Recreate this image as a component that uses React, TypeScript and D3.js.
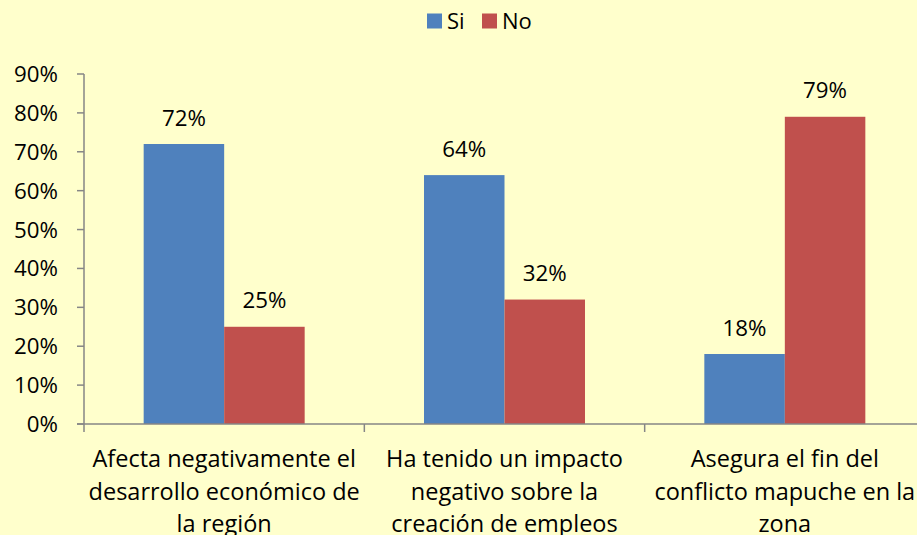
import React from "react";
import * as d3 from "d3";

const categories = [
  ["Afecta negativamente el", "desarrollo económico de", "la región"],
  ["Ha tenido un impacto", "negativo sobre la", "creación de empleos"],
  ["Asegura el fin del", "conflicto mapuche en la", "zona"],
];
const seriesNames = ["Si", "No"];
const siValues = [72, 64, 18];
const noValues = [25, 32, 79];
const yTicks = [0, 10, 20, 30, 40, 50, 60, 70, 80, 90];

const W = 917;
const H = 535;
const colors = ["#4F81BD", "#C0504D"];
const FONT = "'Open Sans', sans-serif";
const FS_NUM = 22.3;
const FS_CAT = 23.5;
const FS_LEG = 22;

export default function App() {
  const left = 84;
  const right = 925;
  const top = 74;
  const bottom = 424;
  const x = d3.scaleBand<number>().domain([0, 1, 2]).range([left, right]);
  const y = d3.scaleLinear().domain([0, 90]).range([bottom, top]);
  const barW = 80.5;
  const series = [siValues, noValues];
  const axisColor = "#868686";

  return (
    <svg
      width={W}
      height={H}
      style={{ position: "fixed", left: 0, top: 0, display: "block" }}
      fontFamily={FONT}
    >
      <rect x={0} y={0} width={W} height={H} fill="#FFFFCC" />
      {/* legend */}
      {seriesNames.map((n, i) => {
        const lx = i === 0 ? 427 : 482;
        return (
          <g key={n}>
            <rect x={lx} y={13.5} width={15} height={15} fill={colors[i]} />
            <text x={lx + 20} y={28.5} fontSize={FS_LEG} fill="#000">
              {n}
            </text>
          </g>
        );
      })}
      {/* y axis */}
      <line x1={left} x2={left} y1={top} y2={bottom} stroke={axisColor} strokeWidth={1.5} />
      {yTicks.map((t) => (
        <g key={t}>
          <line x1={left - 7} x2={left} y1={y(t)} y2={y(t)} stroke={axisColor} strokeWidth={1.5} />
          <text x={left - 26} y={y(t)} dy="0.36em" textAnchor="end" fontSize={FS_NUM} fill="#000">
            {t}%
          </text>
        </g>
      ))}
      {/* bars */}
      {categories.map((c, ci) => {
        const cx = (x(ci) as number) + x.bandwidth() / 2;
        return (
          <g key={ci}>
            {series.map((s, si) => {
              const bx = cx - barW + si * barW;
              return (
                <g key={si}>
                  <rect
                    x={bx}
                    y={y(s[ci])}
                    width={barW}
                    height={bottom - y(s[ci])}
                    fill={colors[si]}
                  />
                  <text
                    x={bx + barW / 2}
                    y={y(s[ci]) - 18.5}
                    textAnchor="middle"
                    fontSize={FS_NUM}
                    fill="#000"
                  >
                    {s[ci]}%
                  </text>
                </g>
              );
            })}
            {c.map((line, li) => (
              <text
                key={li}
                x={cx}
                y={467 + li * 32.5}
                textAnchor="middle"
                fontSize={FS_CAT}
                fill="#000"
              >
                {line}
              </text>
            ))}
          </g>
        );
      })}
      {/* x axis */}
      <line x1={left - 7} x2={W} y1={bottom} y2={bottom} stroke={axisColor} strokeWidth={1.5} />
      {[0, 1, 2, 3].map((i) => {
        const tx = i < 3 ? (x(i) as number) : right;
        return (
          <line key={i} x1={tx} x2={tx} y1={bottom} y2={bottom + 8} stroke={axisColor} strokeWidth={1.5} />
        );
      })}
    </svg>
  );
}
